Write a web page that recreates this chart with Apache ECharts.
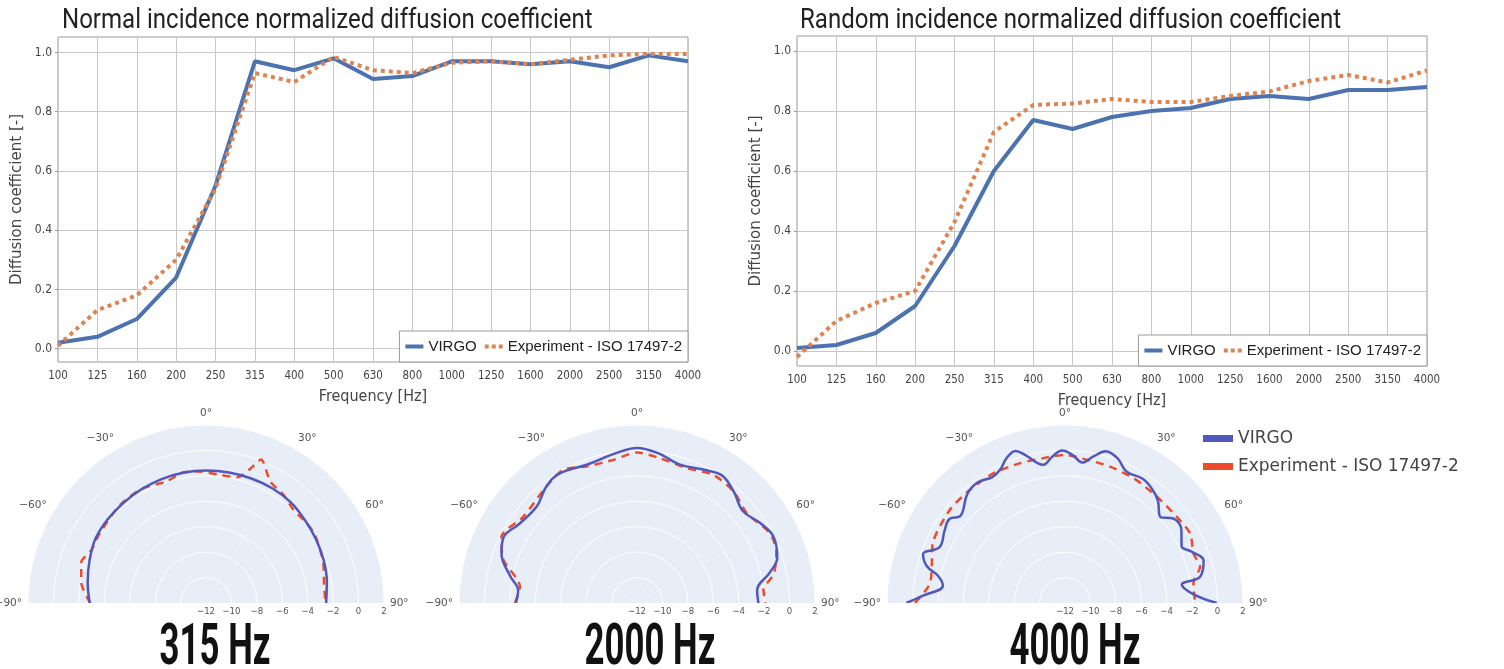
<!DOCTYPE html>
<html><head><meta charset="utf-8">
<script src="https://cdn.jsdelivr.net/npm/echarts@6/dist/echarts.min.js"></script>
<style>html,body{margin:0;padding:0;background:#fff}#c{width:1504px;height:669px}</style>
</head><body><div id="c"></div><script>
// ---- data ----
const freqs = ['100','125','160','200','250','315','400','500','630','800','1000','1250','1600','2000','2500','3150','4000'];
const normalVirgo = [0.02,0.04,0.10,0.24,0.55,0.97,0.94,0.98,0.91,0.92,0.97,0.97,0.96,0.97,0.95,0.99,0.97];
const normalExp   = [0.01,0.13,0.18,0.30,0.54,0.93,0.90,0.985,0.94,0.93,0.965,0.97,0.96,0.975,0.99,0.995,0.995];
const randomVirgo = [0.01,0.02,0.06,0.15,0.35,0.60,0.77,0.74,0.78,0.80,0.81,0.84,0.85,0.84,0.87,0.87,0.88];
const randomExp   = [-0.02,0.10,0.16,0.20,0.43,0.73,0.82,0.825,0.84,0.83,0.83,0.85,0.865,0.90,0.92,0.895,0.935];
const yTicks = [0,0.2,0.4,0.6,0.8,1.0];

// polar (angle in degrees, level in dB)
const p315VirgoAng = [-90,-80,-70,-60,-50,-40,-30,-20,-10,0,10,20,30,40,50,60,70,80,90];
const p315VirgoDb  = [-2.85,-2.55,-2.25,-1.95,-1.85,-1.8,-1.72,-1.65,-1.6,-1.58,-1.58,-1.58,-1.58,-1.65,-1.85,-2.0,-2.15,-2.35,-2.55];
const p315ExpAng = [-90,-81,-72,-65,-57,-41,-29,-18,-10,-3,6,14,18,21,28,36,43,51,58,71,81,90];
const p315ExpDb  = [-2.9,-2.08,-1.68,-2.08,-2.0,-1.74,-1.7,-1.95,-1.58,-1.65,-1.86,-1.8,-0.97,0.08,-1.2,-1.55,-1.95,-1.9,-1.9,-2.25,-2.6,-2.6];

const p2000VirgoAng = [-90,-84,-78,-70,-64,-56,-46,-38,-31,-20,-8,0,8,17,28,34,41,49,57,64,72,77,84,90];
const p2000VirgoDb  = [-2.47,-2.6,-1.8,-0.66,-0.3,-0.85,-1.05,-0.4,-0.13,-0.43,-0.1,0.2,-0.1,-0.6,-0.19,0.05,-0.4,-0.97,-0.45,-0.06,-0.4,-1.27,-2.5,-2.45];
const p2000ExpAng = [-90,-82,-72,-64,-53,-38,-29,-20,-9,0,9,20,31,41,51,62,70,78,84,90];
const p2000ExpDb  = [-2.4,-2.7,-0.95,-0.13,-0.77,-0.4,-0.03,-0.56,-0.58,-0.16,-0.47,-0.7,-0.27,-0.4,-0.85,-0.2,-0.33,-1.0,-2.0,-1.9];

const p4000VirgoAng = [-90,-87,-82,-78,-75,-71,-66,-59,-54,-50,-42,-36,-30,-26,-22,-18,-15,-9,-5,-1,3,7,11,15,20,25,32,37,42,48,52,58,64,68,73,79,81,86,90];
const p4000VirgoDb  = [0.47,-0.82,-2.3,-1.8,-0.74,-0.19,-1.2,-0.95,-0.76,-1.3,-0.5,-0.29,-0.56,-0.35,0.28,0.58,0.04,-1.0,-0.45,0.0,-0.35,-0.87,-0.26,0.36,0.1,-0.58,-0.48,-0.69,-1.1,-1.9,-1.2,-1.2,-1.8,-1.24,-0.6,-1.17,-2.7,-1.9,-0.06];
const p4000ExpAng = [-90,-82,-73,-66,-51,-40,-29,-18,-8.5,0,8.6,18,29,41,52,61,69,75,81,90];
const p4000ExpDb  = [-0.2,-1.26,-1.05,-0.6,-0.35,-0.38,-0.35,-0.45,-0.48,-0.35,-0.6,-0.7,-0.8,-0.95,-0.9,-0.74,-1.17,-1.0,-1.77,-1.77];

const polarLabels = ['315 Hz','2000 Hz','4000 Hz'];
const titles = ['Normal incidence normalized diffusion coefficient','Random incidence normalized diffusion coefficient'];
const nameVirgo = 'VIRGO';
const nameExp = 'Experiment - ISO 17497-2';

// ---- styles ----
const C_BLUE = '#4c72b0', C_ORANGE = '#dd8452';
const P_BLUE = '#5058bd', P_RED = '#ee4b2b';
const POLAR_BG = '#e8eef7';
const tickFont = 'DejaVu Sans Condensed';

function cartAxes(i, yMin, yMax) {
  return {
    x: {
      type: 'category', gridIndex: i, data: freqs, boundaryGap: false,
      name: 'Frequency [Hz]', nameLocation: 'middle', nameGap: 27,
      nameTextStyle: {fontFamily: tickFont, fontSize: 16, color: '#444'},
      axisLine: {show: false}, axisTick: {show: false},
      axisLabel: {fontFamily: tickFont, fontSize: 11.5, color: '#444', margin: 8, interval: 0},
      splitLine: {show: true, lineStyle: {color: '#c8c8c8', width: 1}}
    },
    y: {
      type: 'value', gridIndex: i, min: yMin, max: yMax,
      name: 'Diffusion coefficient [-]', nameLocation: 'middle', nameGap: 33,
      nameTextStyle: {fontFamily: 'DejaVu Sans', fontSize: 15, color: '#444'},
      axisLine: {show: false},
      axisTick: {show: true, length: 3, customValues: yTicks, lineStyle: {color: '#999'}},
      axisLabel: {fontFamily: tickFont, fontSize: 12, color: '#444', margin: 6, customValues: yTicks, formatter: v => v.toFixed(1)},
      splitLine: {show: true, lineStyle: {color: '#c8c8c8', width: 1}}
    }
  };
}
const a0 = cartAxes(0, -0.045, 1.052), a1 = cartAxes(1, -0.05, 1.05);

const polarCenters = [[206,603],[637,603],[1065,603]];
const minus = v => (v < 0 ? '\u2212' + (-v) : '' + v);

// data polars 0..2 and label-overlay polars 3..5 (same centres)
const polars = polarCenters.concat(polarCenters).map(c => ({center: c, radius: 178}));
const angleAxes = [], radiusAxes = [];
polarCenters.forEach((c, i) => {
  angleAxes.push({
    polarIndex: i, type: 'value', min: -90, max: 90, interval: 30, z: 1,
    startAngle: 180, endAngle: 0, clockwise: true,
    axisLine: {show: false}, axisTick: {show: false},
    axisLabel: {show: true, fontFamily: 'DejaVu Sans', fontSize: 10.5, color: '#555', margin: 6, formatter: v => minus(v) + '\u00b0'},
    splitLine: {show: true, lineStyle: {color: '#ffffff', width: 1}},
    // six sectors of the half disc, the wrap-around sector stays empty
    splitArea: {show: true, areaStyle: {color: [POLAR_BG, POLAR_BG, POLAR_BG, POLAR_BG, POLAR_BG, POLAR_BG, 'rgba(0,0,0,0)']}}
  });
  radiusAxes.push({
    polarIndex: i, type: 'value', min: -12, max: 2, interval: 2, z: 2,
    axisLine: {show: false}, axisTick: {show: false}, axisLabel: {show: false},
    splitLine: {show: true, lineStyle: {color: '#ffffff', width: 1}}
  });
});
polarCenters.forEach((c, i) => {
  angleAxes.push({
    polarIndex: i + 3, type: 'value', min: -90, max: 90, interval: 30, z: 3,
    startAngle: 0, endAngle: 180, clockwise: false,
    axisLine: {show: false}, axisTick: {show: false}, axisLabel: {show: false},
    splitLine: {show: false}, splitArea: {show: false}
  });
  radiusAxes.push({
    polarIndex: i + 3, type: 'value', min: -12, max: 2, interval: 2, z: 3,
    axisLine: {show: false}, axisTick: {show: false}, splitLine: {show: false},
    axisLabel: {show: true, margin: -14, fontFamily: tickFont, fontSize: 9.5, color: '#555', formatter: v => minus(v)}
  });
});

const pair = (ang, db) => ang.map((a, k) => [db[k], a]);
const polarSets = [
  [p315VirgoAng, p315VirgoDb, p315ExpAng, p315ExpDb],
  [p2000VirgoAng, p2000VirgoDb, p2000ExpAng, p2000ExpDb],
  [p4000VirgoAng, p4000VirgoDb, p4000ExpAng, p4000ExpDb]
];

const series = [
  {name: nameVirgo, type: 'line', xAxisIndex: 0, yAxisIndex: 0, data: normalVirgo, symbol: 'none',
   lineStyle: {color: C_BLUE, width: 4}, itemStyle: {color: C_BLUE}},
  {name: nameExp, type: 'line', xAxisIndex: 0, yAxisIndex: 0, data: normalExp, symbol: 'none',
   lineStyle: {color: C_ORANGE, width: 4, type: [4, 4]}, itemStyle: {color: C_ORANGE}},
  {name: nameVirgo, type: 'line', xAxisIndex: 1, yAxisIndex: 1, data: randomVirgo, symbol: 'none',
   lineStyle: {color: C_BLUE, width: 4}, itemStyle: {color: C_BLUE}},
  {name: nameExp, type: 'line', xAxisIndex: 1, yAxisIndex: 1, data: randomExp, symbol: 'none',
   lineStyle: {color: C_ORANGE, width: 4, type: [4, 4]}, itemStyle: {color: C_ORANGE}}
];
polarSets.forEach((s, i) => {
  series.push({name: nameVirgo, type: 'line', coordinateSystem: 'polar', polarIndex: i, data: pair(s[0], s[1]),
    symbol: 'none', smooth: 0.4, lineStyle: {color: P_BLUE, width: 2.5}, itemStyle: {color: P_BLUE}, z: 6});
  series.push({name: nameExp, type: 'line', coordinateSystem: 'polar', polarIndex: i, data: pair(s[2], s[3]),
    symbol: 'none', smooth: 0.25, lineStyle: {color: P_RED, width: 2.5, type: [8, 6]}, itemStyle: {color: P_RED}, z: 5});
});

const dotsIcon = 'path://M0,0h4v4h-4zM7,0h4v4h-4zM14,0h4v4h-4z';
const legendCommon = {
  data: [{name: nameVirgo, icon: 'rect', itemStyle: {color: C_BLUE}},
         {name: nameExp, icon: dotsIcon, itemStyle: {color: C_ORANGE}}],
  orient: 'horizontal', backgroundColor: '#fff',
  borderColor: '#999', borderWidth: 1, padding: [8, 6, 8, 6], itemGap: 8, itemWidth: 18, itemHeight: 4,
  textStyle: {fontFamily: 'Liberation Sans', fontSize: 15, color: '#222'}, selectedMode: false
};

const option = {
  animation: false,
  backgroundColor: '#ffffff',
  grid: [
    {left: 58, right: 816, top: 37, bottom: 307, show: true, borderColor: '#999', borderWidth: 1, containLabel: false},
    {left: 797, right: 77, top: 36, bottom: 303, show: true, borderColor: '#999', borderWidth: 1, containLabel: false}
  ],
  xAxis: [a0.x, a1.x],
  yAxis: [a0.y, a1.y],
  polar: polars,
  angleAxis: angleAxes,
  radiusAxis: radiusAxes,
  legend: [
    Object.assign({}, legendCommon, {right: 816, bottom: 307}),
    Object.assign({}, legendCommon, {right: 77, bottom: 303}),
    {data: [{name: nameVirgo, icon: 'rect', itemStyle: {color: P_BLUE}},
            {name: nameExp, icon: 'rect', itemStyle: {color: P_RED}}],
     orient: 'vertical', left: 1198, top: 425, itemGap: 11, itemWidth: 30, itemHeight: 7, selectedMode: false,
     textStyle: {fontFamily: 'DejaVu Sans', fontSize: 17, color: '#444'}}
  ],
  graphic: titles.map((t, i) => ({
    type: 'text', x: [62, 800][i], y: 21, scaleX: 0.89, z: 100,
    style: {text: t, font: 'normal 27px Roboto', fill: '#222', textAlign: 'left', textVerticalAlign: 'middle'}
  })).concat(polarLabels.map((t, i) => ({
    type: 'text', x: [215, 650, 1075][i], y: 649, scaleX: 0.6, z: 100,
    style: {text: t, font: 'bold 58px Roboto', fill: '#111', textAlign: 'center', textVerticalAlign: 'middle'}
  }))),
  series: series
};
const chart = echarts.init(document.getElementById('c'));
chart.setOption(option);
</script></body></html>
